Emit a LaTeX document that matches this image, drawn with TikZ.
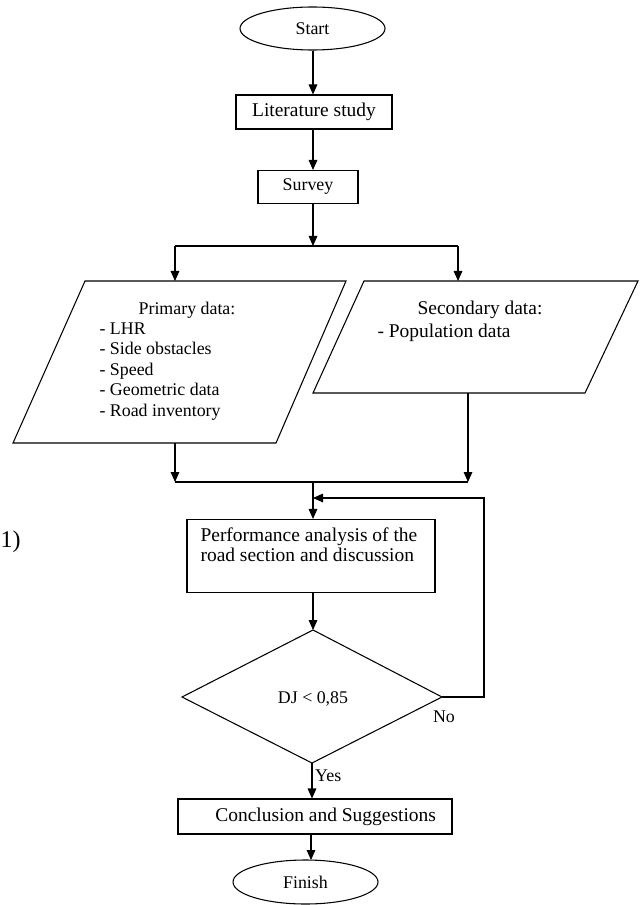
\documentclass[tikz,border=0pt]{standalone}
\usepackage{fontspec}
\setmainfont{Liberation Serif}
\usetikzlibrary{arrows.meta,shapes.geometric}
\begin{document}
\begin{tikzpicture}[x=0.75pt,y=-0.75pt,line width=0.8pt,
  arr/.style={-{Triangle[length=7.5pt,width=6.5pt]}},
  big/.style={font=\fontsize{14.6}{15.4}\selectfont},
  small/.style={font=\fontsize{13.4}{15.4}\selectfont},
  oval/.style={draw,ellipse,inner sep=0pt,small},
  box/.style={draw,rectangle,inner sep=0pt,big}]
\useasboundingbox (0,0) rectangle (641,905);

% terminals and boxes
\node[oval,minimum width=108.75pt,minimum height=32.25pt] (start) at (312.5,28.5) {Start};
\node[box,minimum width=117pt,minimum height=25.5pt] (lit) at (314,112) {Literature study};
\node[box,minimum width=75pt,minimum height=24.75pt,small] (survey) at (308,187) {Survey};

% parallelograms
\draw (85,281) -- (346,281) -- (276,443) -- (13,443) -- cycle;
\draw (364,281) -- (638,281) -- (585,393) -- (313,393) -- cycle;
\node[small] (prim) at (187,310) {Primary data:};
\node[small,anchor=north west,align=left,inner sep=0pt] (plist) at (99,322)
  {- LHR\\- Side obstacles\\- Speed\\- Geometric data\\- Road inventory};
\node[big] (sec) at (480,310) {Secondary data:};
\node[big,anchor=west,inner sep=0pt] (slist) at (377,333) {- Population data};

\node[box,minimum width=186pt,minimum height=54.75pt] (perf) at (311,556) {};
\node[big,anchor=north west,align=left,inner sep=0pt] (perftxt) at (200,527)
  {Performance analysis of the\\road section and discussion};

% decision
\coordinate (dT) at (313,630);
\coordinate (dL) at (182,697);
\coordinate (dR) at (442,697);
\coordinate (dB) at (312,763);
\draw (dT) -- (dR) -- (dB) -- (dL) -- cycle;
\node[small] (dj) at (313,699) {DJ < 0,85};
\node[small] (no) at (444,717) {No};

\node[box,minimum width=205.5pt,minimum height=26.25pt] (concl) at (315,816.5) {\hspace*{16pt}Conclusion and Suggestions};
\node[oval,minimum width=108.75pt,minimum height=33pt] (finish) at (305.5,882) {Finish};

\node[font=\fontsize{18}{20}\selectfont,anchor=west,inner sep=0pt] (one) at (0,542) {1)};

% coordinates for connectors
\coordinate (split) at (313,246);
\coordinate (sL) at (175,246);
\coordinate (sR) at (458,246);
\coordinate (pTop) at (175,281);
\coordinate (sTop) at (458,281);
\coordinate (pBot) at (175,443);
\coordinate (sBot) at (468,393);
\coordinate (mL) at (175,482);
\coordinate (mR) at (468,482);
\coordinate (mC) at (313,482);
\coordinate (loopB) at (484,697);
\coordinate (loopT) at (484,498);
\coordinate (loopE) at (313,498);

% connectors
\draw[arr] (start.south -| split) -- (lit.north -| split);
\draw[arr] (lit.south -| split) -- (survey.north -| split);
\draw[arr] (survey.south -| split) -- (split);
\draw (sL) -- (sR);
\draw[arr] (sL) -- (pTop);
\draw[arr] (sR) -- (sTop);
\draw[arr] (pBot) -- (mL);
\draw[arr] (sBot) -- (mR);
\draw (mL) -- (mR);
\draw[arr] (mC) -- (perf.north -| mC);
\draw[arr] (dR) -- (loopB) -- (loopT) -- (loopE);
\draw[arr] (perf.south -| dT) -- (dT);
\draw[arr] (dB) -- (concl.north -| dB) node[pos=0.35,right,small,inner sep=2pt] (yes) {Yes};
\draw[arr] (concl.south -| 311,0) -- (311,860);
\end{tikzpicture}
\end{document}
